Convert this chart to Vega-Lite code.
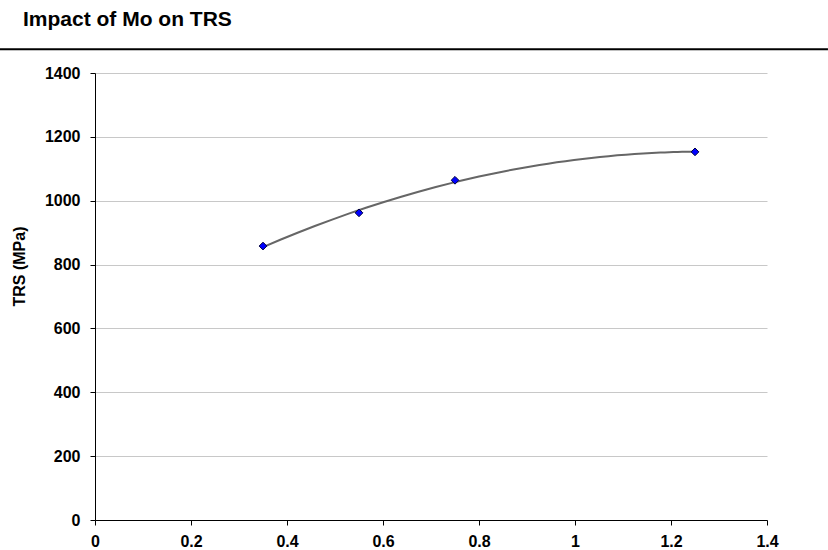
{
  "$schema": "https://vega.github.io/schema/vega-lite/v6.json",
  "autosize": {"type": "none"},
  "width": 672,
  "height": 447,
  "padding": {"left": 95, "top": 73, "right": 61, "bottom": 30},
  "background": "white",
  "config": {
    "view": {"stroke": null},
    "font": "Liberation Sans",
    "axis": {
      "labelFont": "Liberation Sans",
      "labelFontWeight": "bold",
      "labelFontSize": 16,
      "labelColor": "black",
      "titleFont": "Liberation Sans",
      "titleFontWeight": "bold",
      "titleFontSize": 16,
      "titleColor": "black",
      "domainColor": "black",
      "tickColor": "black",
      "tickSize": 5,
      "gridColor": "#c8c8c8",
      "gridWidth": 1
    }
  },
  "title": {
    "text": "Impact of Mo on TRS",
    "anchor": "start",
    "frame": "group",
    "dx": -72,
    "offset": 18,
    "font": "Liberation Sans",
    "fontSize": 21,
    "fontWeight": "bold",
    "color": "black"
  },
  "data": {
    "values": [
      {"mo": 0.35, "trs": 858},
      {"mo": 0.55, "trs": 962},
      {"mo": 0.75, "trs": 1064},
      {"mo": 1.25, "trs": 1153}
    ]
  },
  "layer": [
    {
      "data": {"values": [{"x1": -0.198, "x2": 1.527, "y": 1474}]},
      "mark": {"type": "rule", "color": "black", "strokeWidth": 2, "clip": false},
      "encoding": {
        "x": {"field": "x1", "type": "quantitative", "scale": {"domain": [0, 1.4]}},
        "x2": {"field": "x2"},
        "y": {"field": "y", "type": "quantitative", "scale": {"domain": [0, 1400]}}
      }
    },
    {
      "transform": [
        {"regression": "trs", "on": "mo", "method": "poly", "order": 2, "extent": [0.35, 1.25]}
      ],
      "mark": {"type": "line", "color": "#666666", "strokeWidth": 2},
      "encoding": {
        "x": {"field": "mo", "type": "quantitative"},
        "y": {"field": "trs", "type": "quantitative"}
      }
    },
    {
      "mark": {"type": "point", "shape": "diamond", "filled": true, "fill": "#0000ff", "stroke": "#000040", "strokeWidth": 1, "size": 60, "opacity": 1},
      "encoding": {
        "x": {
          "field": "mo", "type": "quantitative",
          "scale": {"domain": [0, 1.4], "nice": false, "zero": false},
          "axis": {"title": null, "values": [0, 0.2, 0.4, 0.6, 0.8, 1, 1.2, 1.4], "format": "~g", "grid": false, "labelPadding": 8, "labelFlush": false}
        },
        "y": {
          "field": "trs", "type": "quantitative",
          "scale": {"domain": [0, 1400], "nice": false},
          "axis": {"title": "TRS (MPa)", "values": [0, 200, 400, 600, 800, 1000, 1200, 1400], "format": "d", "grid": true, "labelPadding": 10, "titleAngle": -90, "titleX": -76, "titleY": 193, "titleAlign": "center", "titleBaseline": "middle"}
        }
      }
    }
  ]
}
